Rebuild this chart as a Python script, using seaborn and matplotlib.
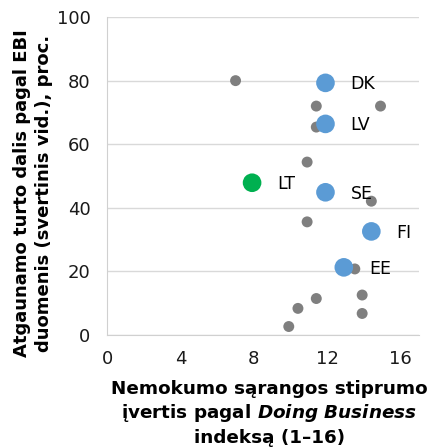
import pandas as pd
import matplotlib.pyplot as plt
import seaborn as sns

# other EU countries (grey)
other_x = [7.0, 11.4, 14.9, 11.4, 10.9, 14.4, 10.9, 13.5, 13.9, 13.9, 11.4, 10.4, 9.9]
other_y = [80.0, 72.0, 72.0, 65.4, 54.4, 42.1, 35.6, 20.8, 12.6, 6.8, 11.5, 8.4, 2.7]

# highlighted countries
nordic_labels = ['DK', 'LV', 'SE', 'FI', 'EE']
nordic_x = [11.9, 11.9, 11.9, 14.4, 12.9]
nordic_y = [79.3, 66.4, 44.9, 32.6, 21.3]

lt_label = 'LT'
lt_x = 7.9
lt_y = 47.9

df = pd.concat([
    pd.DataFrame({'x': other_x, 'y': other_y, 'grp': 'other'}),
    pd.DataFrame({'x': nordic_x, 'y': nordic_y, 'grp': 'nordic'}),
    pd.DataFrame({'x': [lt_x], 'y': [lt_y], 'grp': 'lt'}),
], ignore_index=True)

sns.set_style('white')
plt.rcParams['font.family'] = ['DejaVu Sans']
plt.rcParams['text.color'] = 'black'
plt.rcParams['axes.labelcolor'] = 'black'
plt.rcParams['mathtext.fontset'] = 'custom'
plt.rcParams['mathtext.it'] = 'DejaVu Sans:bold:italic'

fig = plt.figure(figsize=(4.32, 4.48), dpi=100)
ax = fig.add_axes([0.248, 0.252, 0.722, 0.71])

palette = {'other': '#7f7f7f', 'nordic': '#5b9bd5', 'lt': '#00b050'}
sizes = {'other': 62, 'nordic': 180, 'lt': 180}
sns.scatterplot(data=df, x='x', y='y', hue='grp', size='grp', sizes=sizes,
                palette=palette, linewidth=0, legend=False, ax=ax, zorder=3)

for lab, xx, yy in zip(nordic_labels + [lt_label], nordic_x + [lt_x], nordic_y + [lt_y]):
    ax.annotate(lab, (xx, yy), xytext=(18, -1), textcoords='offset points',
                va='center', ha='left', fontsize=12.5, color='black')

ax.set_xlim(0, 17)
ax.set_ylim(0, 100)
ax.set_xticks([0, 4, 8, 12, 16])
ax.set_yticks([0, 20, 40, 60, 80, 100])
ax.tick_params(axis='both', length=0, labelsize=13, colors='#1a1a1a')
ax.tick_params(axis='y', pad=12)
ax.tick_params(axis='x', pad=11)
ax.yaxis.grid(True, color='#d9d9d9', linewidth=1)
ax.xaxis.grid(False)
for s in ['top', 'right']:
    ax.spines[s].set_visible(False)
for s in ['left', 'bottom']:
    ax.spines[s].set_color('#d0d0d0')

ax.set_xlabel('Nemokumo sąrangos stiprumo\nįvertis pagal $\\it{Doing\\ Business}$\nindeksą (1–16)',
              fontsize=13.2, fontweight='bold', linespacing=1.3)
ax.xaxis.set_label_coords(0.52, -0.14)
ax.set_ylabel('Atgaunamo turto dalis pagal EBI\nduomenis (svertinis vid.), proc.',
              fontsize=13, fontweight='bold', linespacing=1.25)
ax.yaxis.set_label_coords(-0.175, 0.445)

fig.savefig('out.png', dpi=100)
